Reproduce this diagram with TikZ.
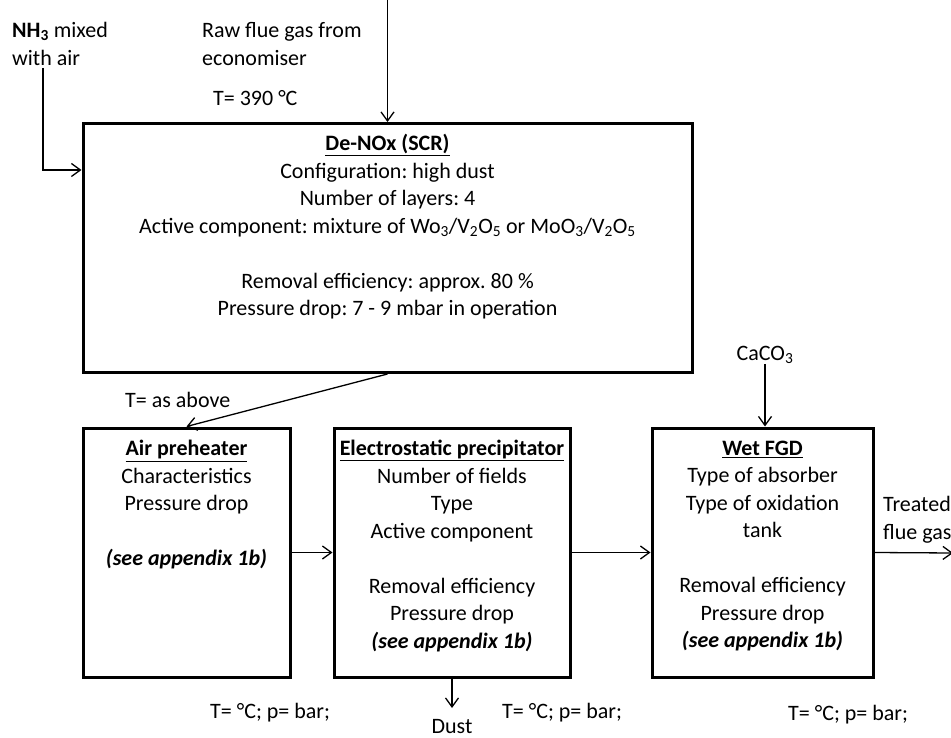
\documentclass[tikz,border=0pt]{standalone}
\usepackage{fontspec}
\setmainfont{Carlito}
\frenchspacing
\usetikzlibrary{arrows.meta}

\tikzset{
  unitbox/.style={draw, line width=3pt, minimum height=249pt, inner sep=0pt},
  txt/.style={inner sep=0pt, align=center},
  ltxt/.style={inner sep=0pt, align=left, anchor=west},
  flow/.style={->, line width=1.3pt},
}

\begin{document}
\begin{tikzpicture}[x=1pt, y=-1pt, >={Straight Barb[length=9pt,width=13pt]},
    font=\fontsize{22}{27.5}\selectfont]
  \useasboundingbox (0,0) rectangle (951,738);

  % feeds at the top
  \node[ltxt] (nh3) at (12,44) {\textbf{NH\textsubscript{3}} mixed\\with air};
  \node[ltxt] (raw) at (202,44) {Raw flue gas from\\economiser};
  \node[ltxt] (tin) at (213,98) {T= 390 °C};
  \coordinate (nh3top) at (43,68);
  \coordinate (rawin) at (387.5,0);

  % De-NOx
  \node[unitbox, minimum width=609pt] (scr) at (387.5,248) {};
  \node[txt] (scrtxt) at (387.5,227)
    {\underline{\textbf{De-NOx (SCR)}}\\Configuration: high dust\\Number of layers: 4\\
     Active component: mixture of Wo\textsubscript{3}/V\textsubscript{2}O\textsubscript{5} or MoO\textsubscript{3}/V\textsubscript{2}O\textsubscript{5}\\[27.5pt]
     Removal efficiency: approx. 80 \%\\Pressure drop: 7 - 9 mbar in operation};
  \node[ltxt] (tabove) at (125,400) {T= as above};

  % Air preheater
  \node[unitbox, minimum width=207pt] (aph) at (186.5,552.5) {};
  \node[txt] (aphtxt) at (186.5,505)
    {\underline{\textbf{Air preheater}}\\Characteristics\\Pressure drop\\[27.5pt]\textbf{\textit{(see appendix 1b)}}};
  \node[ltxt] (aphcond) at (210,713) {T= °C; p= bar;};

  % ESP
  \node[unitbox, minimum width=236pt] (esp) at (452,552.5) {};
  \node[txt] (esptxt) at (452,546)
    {\underline{\textbf{Electrostatic precipitator}}\\Number of fields\\Type\\Active component\\[27.5pt]Removal efficiency\\Pressure drop\\\textbf{\textit{(see appendix 1b)}}};
  \node[ltxt] (espcond) at (502,713) {T= °C; p= bar;};
  \coordinate (dustout) at (452,708);
  \node[txt] (dust) at (452,727) {Dust};

  % Wet FGD
  \node[unitbox, minimum width=221pt] (fgd) at (762.5,552.5) {};
  \node[txt] (fgdtxt) at (762.5,546)
    {\underline{\textbf{Wet FGD}}\\Type of absorber\\Type of oxidation\\tank\\[27.5pt]Removal efficiency\\Pressure drop\\\textbf{\textit{(see appendix 1b)}}};
  \node[ltxt] (fgdcond) at (788,715) {T= °C; p= bar;};
  \node[txt] (caco3) at (765,355) {CaCO\textsubscript{3}};
  \node[ltxt] (treated) at (883,520) {Treated\\flue gas};
  \coordinate (stack) at (953,553);

  % connectors
  \draw[flow] (rawin) -- (scr.north);
  \draw[flow] (nh3top) |- (scr.west |- 0,170);
  \draw[flow] (scr.south) -- (aph.north);
  \draw[flow] (aph.east) -- (esp.west);
  \draw[flow] (esp.east) -- (fgd.west);
  \draw[flow] (fgd.east) -- (stack);
  \draw[flow] (esp.south) -- (dustout);
  \draw[flow] (caco3.south) -- (caco3.south |- fgd.north);
\end{tikzpicture}
\end{document}
